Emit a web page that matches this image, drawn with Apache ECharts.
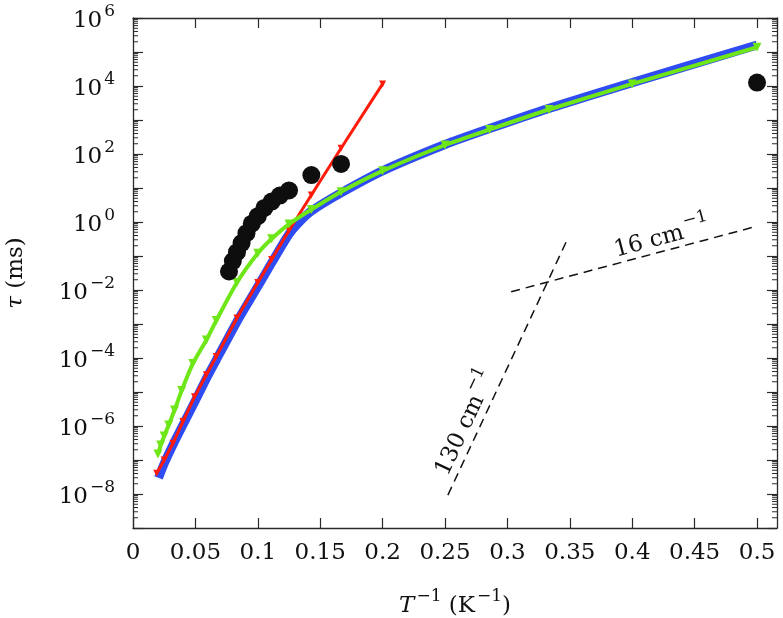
<!DOCTYPE html>
<html><head><meta charset="utf-8">
<script src="https://cdn.jsdelivr.net/npm/echarts@6/dist/echarts.min.js"></script>
<style>html,body{margin:0;padding:0;background:#fff}#c{width:783px;height:618px}</style>
</head><body><div id="c"></div>
<script>
const FONT = 'DejaVu Serif';
// x: inverse temperature T^-1 (K^-1); tau: relaxation time (ms)
const blueX   = [0.0205, 0.025, 0.0333, 0.04, 0.05, 0.0588, 0.0667, 0.0833, 0.1, 0.1111, 0.125, 0.1333, 0.1429, 0.1667, 0.2, 0.25, 0.2857, 0.3333, 0.4, 0.5];
const blueTau = [3.0e-8, 7.9e-8, 3.5e-7, 1.07e-6, 5.6e-6, 2.5e-5, 8.7e-5, 1.17e-3, 1.26e-2, 6.3e-2, 0.44, 1.0, 2.1, 7.2, 32, 190, 560, 2200, 1.26e4, 1.6e5];

const redX   = [0.019, 0.025, 0.032, 0.04, 0.0493, 0.0588, 0.0667, 0.0833, 0.1, 0.1111, 0.125, 0.1429, 0.1667, 0.2];
const redTau = [4.1e-8, 1.0e-7, 3.1e-7, 1.35e-6, 7.2e-6, 3.2e-5, 1.1e-4, 1.5e-3, 1.66e-2, 7.9e-2, 0.56, 6.2, 148, 1.15e4];

const greenX   = [0.02, 0.0222, 0.025, 0.0286, 0.0333, 0.039, 0.048, 0.0588, 0.0667, 0.0833, 0.1, 0.1111, 0.125, 0.1429, 0.1667, 0.2, 0.25, 0.2857, 0.3333, 0.4, 0.5];
const greenTau = [1.5e-7, 2.75e-7, 5.1e-7, 1.07e-6, 2.95e-6, 1.1e-5, 6.9e-5, 3.4e-4, 1.26e-3, 1.66e-2, 0.12, 0.32, 0.87, 2.34, 7.8, 32, 184, 525, 2040, 1.15e4, 1.38e5];

const dotX   = [0.0769, 0.08, 0.0833, 0.087, 0.0909, 0.0952, 0.1, 0.1053, 0.1111, 0.1176, 0.125, 0.1429, 0.1667, 0.5];
const dotTau = [0.035, 0.071, 0.13, 0.24, 0.47, 0.89, 1.48, 2.6, 4.0, 6.0, 8.5, 24, 51, 1.26e4];

const line130X   = [0.2523, 0.3484];
const line130Tau = [9.3e-9, 0.33];
const line16X    = [0.303, 0.498];
const line16Tau  = [8.9e-3, 0.72];

const label130 = [0.2643, 1.35e-6];
const label16  = [0.4232, 0.42];

const X_MIN = 0, X_MAX = 0.516, X_STEP = 0.05;
const Y_MIN_EXP = -9, Y_MAX_EXP = 6;

const L = v => Math.log10(v);
const pts = (xs, ts) => xs.map((x, i) => [x, L(ts[i])]);

const minorLogs = [];
for (let n = Y_MIN_EXP; n < Y_MAX_EXP; n++) for (let k = 2; k <= 9; k++) minorLogs.push(n + Math.log10(k));

const AX = '#2a2a2a';
const baseRich = {
  b: {fontFamily: FONT, fontSize: 23, color: '#111', lineHeight: 30, verticalAlign: 'bottom'},
  i: {fontFamily: FONT, fontSize: 23, color: '#111', fontStyle: 'italic', lineHeight: 30, verticalAlign: 'bottom'},
  s: {fontFamily: FONT, fontSize: 17, color: '#111', lineHeight: 17, verticalAlign: 'top', padding: [0, 0, 0, 2]}
};
const sup = n => (n < 0 ? '\u2212' + (-n) : String(n));

const xAxisCommon = {type: 'value', min: X_MIN, max: X_MAX, interval: X_STEP, splitLine: {show: false},
  axisLine: {show: true, onZero: false, lineStyle: {color: AX, width: 1.3}},
  axisTick: {show: true, inside: true, length: 10, lineStyle: {color: AX, width: 1.2}}};
const yAxisCommon = {type: 'value', min: Y_MIN_EXP, max: Y_MAX_EXP, interval: 1, splitLine: {show: false},
  axisLine: {show: true, onZero: false, lineStyle: {color: AX, width: 1.3}},
  axisTick: {show: true, inside: true, length: 10, lineStyle: {color: AX, width: 1.2}}};

const chart = echarts.init(document.getElementById('c'));
chart.setOption({
  animation: false,
  backgroundColor: '#fff',
  grid: {left: 133, right: 6, top: 18, bottom: 90, containLabel: false, outerBoundsMode: 'none'},
  xAxis: [
    Object.assign({}, xAxisCommon, {position: 'bottom',
      name: '{i|T}{s|\u22121}{b| (K}{s|\u22121}{b|)}', nameLocation: 'middle', nameGap: 60,
      nameTextStyle: {rich: baseRich},
      axisLabel: {margin: 14, fontFamily: FONT, fontSize: 23, color: '#111', showMaxLabel: false,
        formatter: v => Math.abs(v / X_STEP - Math.round(v / X_STEP)) > 1e-6 ? '' : String(+v.toFixed(2))}}),
    Object.assign({}, xAxisCommon, {position: 'top', axisLabel: {show: false}})
  ],
  yAxis: [
    Object.assign({}, yAxisCommon, {position: 'left',
      name: '{i|\u03c4}{b| (ms)}', nameLocation: 'middle', nameGap: 105, nameRotate: 90,
      nameTextStyle: {rich: baseRich},
      axisLabel: {margin: 18, rich: baseRich,
        formatter: v => { const n = Math.round(v); return (n % 2 !== 0) ? '' : '{b|10}{s|' + sup(n) + '}'; }}}),
    Object.assign({}, yAxisCommon, {position: 'right', axisLabel: {show: false}})
  ],
  series: [
    {type: 'custom', silent: true, clip: false, z: 1,
      data: minorLogs.map(v => [X_MIN, v]),
      renderItem: (params, api) => {
        const v = api.value(1);
        const a = api.coord([X_MIN, v]);
        const b = api.coord([X_MAX, v]);
        const st = {stroke: AX, lineWidth: 1};
        return {type: 'group', children: [
          {type: 'line', shape: {x1: a[0], y1: a[1], x2: a[0] + 5, y2: a[1]}, style: st},
          {type: 'line', shape: {x1: b[0] - 5, y1: b[1], x2: b[0], y2: b[1]}, style: st}
        ]};
      }},
    {name: 'fit130', type: 'line', data: pts(line130X, line130Tau), symbol: 'none', z: 2,
      lineStyle: {color: '#111', width: 1.5, type: [9, 6]}},
    {name: 'fit16', type: 'line', data: pts(line16X, line16Tau), symbol: 'none', z: 2,
      lineStyle: {color: '#111', width: 1.5, type: [9, 6]}},
    {name: 'blue', type: 'line', data: pts(blueX, blueTau), symbol: 'none', z: 3, smooth: 0.2,
      lineStyle: {color: '#2f4cf2', width: 9, join: 'round'}},
    {name: 'red', type: 'line', data: pts(redX, redTau), symbol: 'triangle', symbolRotate: 180, symbolSize: 7, z: 4,
      itemStyle: {color: '#ff1a0a'}, lineStyle: {color: '#ff1a0a', width: 3}},
    {name: 'green', type: 'line', data: pts(greenX, greenTau), symbol: 'triangle', symbolRotate: 180, symbolSize: 9, z: 5,
      smooth: 0.2,
      itemStyle: {color: '#6ee617'}, lineStyle: {color: '#6ee617', width: 4}},
    {name: 'exp', type: 'scatter', data: pts(dotX, dotTau), symbol: 'circle', symbolSize: 18, z: 6,
      itemStyle: {color: '#0e0e0e', opacity: 1}},
    {name: 'labels', type: 'scatter', symbolSize: 1, z: 7, itemStyle: {color: 'rgba(0,0,0,0)', opacity: 1},
      data: [
        {value: [label130[0], L(label130[1])], label: {show: true, position: 'inside', rotate: 65, opacity: 1, textBorderWidth: 0, formatter: '{b|130 cm}{s|\u22121}', rich: baseRich}},
        {value: [label16[0], L(label16[1])], label: {show: true, position: 'inside', rotate: 15, opacity: 1, textBorderWidth: 0, formatter: '{b|16 cm}{s|\u22121}', rich: baseRich}}
      ]}
  ]
});
</script></body></html>
